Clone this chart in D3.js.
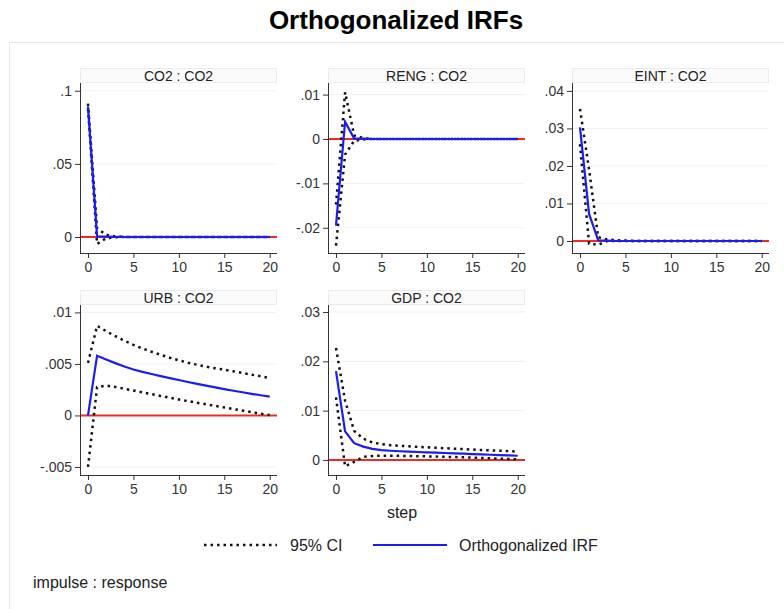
<!DOCTYPE html>
<html>
<head>
<meta charset="utf-8">
<script src="https://cdn.jsdelivr.net/npm/d3@7"></script>
<style>
  body { margin: 0; background: #fff; }
  svg { display: block; font-family: "Liberation Sans", Arial, sans-serif; }
</style>
</head>
<body>
<div class="viewport"></div>
<script>
var steps = d3.range(0, 21);

var panelNames = ["CO2 : CO2", "RENG : CO2", "EINT : CO2", "URB : CO2", "GDP : CO2"];

// CO2 : CO2
var co2Irf = [0.0892, 0.0004, 0.0002, 0.0001, 0, 0, 0, 0, 0, 0, 0, 0, 0, 0, 0, 0, 0, 0, 0, 0, 0];
var co2Hi  = [0.0912, 0.0060, 0.0015, 0.0004, 0.0001, 0, 0, 0, 0, 0, 0, 0, 0, 0, 0, 0, 0, 0, 0, 0, 0];
var co2Lo  = [0.0880, -0.0048, -0.0008, -0.0002, 0, 0, 0, 0, 0, 0, 0, 0, 0, 0, 0, 0, 0, 0, 0, 0, 0];

// RENG : CO2
var rengIrf = [-0.0195, 0.0039, 0.0001, 0.0001, 0, 0, 0, 0, 0, 0, 0, 0, 0, 0, 0, 0, 0, 0, 0, 0, 0];
var rengHi  = [-0.0148, 0.0105, 0.0008, 0.0002, 0, 0, 0, 0, 0, 0, 0, 0, 0, 0, 0, 0, 0, 0, 0, 0, 0];
var rengLo  = [-0.0240, -0.0035, -0.0004, -0.0001, 0, 0, 0, 0, 0, 0, 0, 0, 0, 0, 0, 0, 0, 0, 0, 0, 0];

// EINT : CO2
var eintIrf = [0.0303, 0.0072, 0.0002, 0.0001, 0, 0, 0, 0, 0, 0, 0, 0, 0, 0, 0, 0, 0, 0, 0, 0, 0];
var eintHi  = [0.0352, 0.0190, 0.0010, 0.0004, 0.0002, 0.0001, 0, 0, 0, 0, 0, 0, 0, 0, 0, 0, 0, 0, 0, 0, 0];
var eintLo  = [0.0258, -0.0007, -0.0010, 0.0000, 0, 0, 0, 0, 0, 0, 0, 0, 0, 0, 0, 0, 0, 0, 0, 0, 0];

// URB : CO2
var urbIrf = [0, 0.00580, 0.00543, 0.00508, 0.00475, 0.00446, 0.00423, 0.00402, 0.00381, 0.00362, 0.00344,
              0.00325, 0.00307, 0.00289, 0.00272, 0.00256, 0.00240, 0.00225, 0.00210, 0.00196, 0.00183];
var urbHi  = [0.0051, 0.00870, 0.00818, 0.00770, 0.00726, 0.00685, 0.00650, 0.00618, 0.00588, 0.00560, 0.00535,
              0.00512, 0.00492, 0.00474, 0.00458, 0.00444, 0.00428, 0.00412, 0.00396, 0.00380, 0.00364];
var urbLo  = [-0.0050, 0.00275, 0.00290, 0.00277, 0.00260, 0.00242, 0.00224, 0.00206, 0.00189, 0.00172, 0.00155,
              0.00139, 0.00123, 0.00108, 0.00093, 0.00078, 0.00062, 0.00047, 0.00032, 0.00017, 0.00004];

// GDP : CO2
var gdpIrf = [0.0180, 0.0058, 0.0034, 0.0027, 0.00225, 0.00200, 0.00186, 0.00176, 0.00168, 0.00161, 0.00154,
              0.00147, 0.00140, 0.00133, 0.00126, 0.00119, 0.00112, 0.00105, 0.00098, 0.00091, 0.00085];
var gdpHi  = [0.0227, 0.0120, 0.0059, 0.0043, 0.00355, 0.00320, 0.00300, 0.00287, 0.00276, 0.00266, 0.00256,
              0.00246, 0.00237, 0.00228, 0.00219, 0.00210, 0.00202, 0.00194, 0.00186, 0.00178, 0.00170];
var gdpLo  = [0.0127, -0.0013, -0.0004, 0.0006, 0.00080, 0.00085, 0.00085, 0.00083, 0.00080, 0.00076, 0.00072,
              0.00068, 0.00063, 0.00058, 0.00052, 0.00046, 0.00040, 0.00033, 0.00026, 0.00018, 0.00010];

// y tick values per panel
var yTicks = [
    [0, 0.05, 0.1],
    [-0.02, -0.01, 0, 0.01],
    [0, 0.01, 0.02, 0.03, 0.04],
    [-0.005, 0, 0.005, 0.01],
    [0, 0.01, 0.02, 0.03]
];
var xTicks = [0, 5, 10, 15, 20];

var legendLabels = ["95% CI", "Orthogonalized IRF"];

function letsGo() {

    var width = 784,
        height = 609;

    var ciColor = "#111",
        irfColor = "#1c1cf0",
        zeroColor = "#ee2a22";

    var svg = d3.select(".viewport").append("svg")
        .attr("width", width)
        .attr("height", height);

    // outer graph region frame
    svg.append("rect")
        .attr("x", 9.5).attr("y", 42.5)
        .attr("width", 800).attr("height", 600)
        .attr("fill", "#fff")
        .attr("stroke", "#e6e6e6");

    svg.append("text")
        .attr("x", 396).attr("y", 29)
        .attr("text-anchor", "middle")
        .attr("font-size", 26)
        .attr("font-weight", "bold")
        .attr("fill", "#000")
        .text("Orthogonalized IRFs");

    // panel boxes: left, top, and y domain ends
    var panels = [
        { left: 80,  top: 83,  irf: co2Irf,  hi: co2Hi,  lo: co2Lo,  y0: -0.01094, y1: 0.1053 },
        { left: 328, top: 83,  irf: rengIrf, hi: rengHi, lo: rengLo, y0: -0.02568, y1: 0.01261 },
        { left: 572, top: 83,  irf: eintIrf, hi: eintHi, lo: eintLo, y0: -0.0032,  y1: 0.0421 },
        { left: 80,  top: 305, irf: urbIrf,  hi: urbHi,  lo: urbLo,  y0: -0.00578, y1: 0.01072 },
        { left: 328, top: 305, irf: gdpIrf,  hi: gdpHi,  lo: gdpLo,  y0: -0.00306, y1: 0.03143 }
    ];

    var pw = 197,
        ph = 170;

    // Stata style labels: .05, -.005
    function stataFmt(v) {
        if (v === 0) { return "0"; }
        var s = String(+v.toFixed(4));
        return s.replace(/^(-?)0\./, "$1.");
    }

    panels.forEach(function (p, i) {

        var x = d3.scaleLinear().domain([-0.88, 20.8]).range([0, pw]);
        var y = d3.scaleLinear().domain([p.y0, p.y1]).range([ph, 0]);

        var g = svg.append("g")
            .attr("transform", "translate(" + p.left + "," + p.top + ")");

        // strip title
        g.append("rect")
            .attr("x", 0.5).attr("y", -14.5)
            .attr("width", pw - 1).attr("height", 14)
            .attr("fill", "#fbfbfb")
            .attr("stroke", "#ebebeb");
        g.append("text")
            .attr("x", pw / 2).attr("y", -2.5)
            .attr("text-anchor", "middle")
            .attr("font-size", 14)
            .attr("fill", "#222")
            .text(panelNames[i]);

        // grid lines
        g.selectAll("line.grid").data(yTicks[i].filter(function (d) { return d !== 0; }))
            .enter().append("line")
            .attr("class", "grid")
            .attr("x1", 0).attr("x2", pw)
            .attr("y1", function (d) { return y(d); })
            .attr("y2", function (d) { return y(d); })
            .attr("stroke", "#eef0f2")
            .attr("stroke-width", 1);

        // zero line
        g.append("line")
            .attr("x1", 0).attr("x2", pw)
            .attr("y1", y(0)).attr("y2", y(0))
            .attr("stroke", zeroColor)
            .attr("stroke-width", 2);

        var line = d3.line()
            .x(function (d, k) { return x(steps[k]); })
            .y(function (d) { return y(d); });

        [p.hi, p.lo].forEach(function (ci) {
            g.append("path")
                .datum(ci)
                .attr("d", line)
                .attr("fill", "none")
                .attr("stroke", ciColor)
                .attr("stroke-width", 2.5)
                .attr("stroke-dasharray", "2.5,4");
        });

        g.append("path")
            .datum(p.irf)
            .attr("d", line)
            .attr("fill", "none")
            .attr("stroke", irfColor)
            .attr("stroke-width", 2.2);

        // axes
        var xAxis = d3.axisBottom(x).tickValues(xTicks).tickSize(5).tickPadding(4)
            .tickFormat(d3.format("d"));
        var yAxis = d3.axisLeft(y).tickValues(yTicks[i]).tickSize(5).tickPadding(3)
            .tickFormat(stataFmt);

        var gx = g.append("g").attr("transform", "translate(0," + ph + ")").call(xAxis);
        var gy = g.append("g").call(yAxis);

        [gx, gy].forEach(function (a) {
            a.select(".domain").remove();
            a.selectAll(".tick line").attr("stroke", "#333");
            a.selectAll(".tick text").attr("fill", "#333").attr("font-size", 14)
                .attr("font-family", "Liberation Sans, Arial, sans-serif");
        });
        g.append("line").attr("x1", 0).attr("x2", pw).attr("y1", ph + 0.5).attr("y2", ph + 0.5)
            .attr("stroke", "#333");
        g.append("line").attr("x1", 0.5).attr("x2", 0.5).attr("y1", 0).attr("y2", ph)
            .attr("stroke", "#333");
    });

    // x axis title under GDP panel
    svg.append("text")
        .attr("x", 402).attr("y", 518)
        .attr("text-anchor", "middle")
        .attr("font-size", 16)
        .attr("fill", "#222")
        .text("step");

    // legend
    var lg = svg.append("g");
    lg.append("line")
        .attr("x1", 204).attr("x2", 277).attr("y1", 545).attr("y2", 545)
        .attr("stroke", ciColor).attr("stroke-width", 2.5).attr("stroke-dasharray", "2.5,4");
    lg.append("text")
        .attr("x", 290).attr("y", 551)
        .attr("font-size", 16).attr("fill", "#222")
        .text(legendLabels[0]);
    lg.append("line")
        .attr("x1", 373).attr("x2", 447).attr("y1", 545).attr("y2", 545)
        .attr("stroke", irfColor).attr("stroke-width", 2.2);
    lg.append("text")
        .attr("x", 459).attr("y", 551)
        .attr("font-size", 16).attr("fill", "#222")
        .text(legendLabels[1]);

    svg.append("text")
        .attr("x", 33).attr("y", 588)
        .attr("font-size", 16).attr("fill", "#222")
        .text("impulse : response");
}

letsGo();
</script>
</body>
</html>
